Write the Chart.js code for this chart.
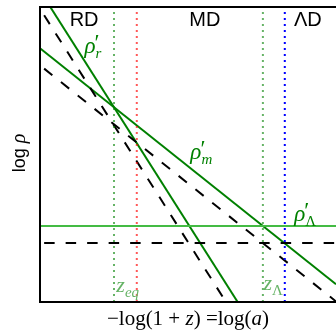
<!DOCTYPE html>
<html>
<head>
<meta charset="utf-8">
<script src="https://cdn.jsdelivr.net/npm/chart.js@4/dist/chart.umd.min.js"></script>
<style>
  html, body { margin: 0; padding: 0; background: #fff; }
  #wrap { width: 336px; height: 330px; }
</style>
</head>
<body>
<div id="wrap"><canvas id="grafico" width="336" height="330"></canvas></div>
<script>
// eixo x: log(a), eixo y: log(rho), em unidades arbitrárias 0..10
const logA = [0, 10];
const rhoR = [10.55, -5.25];
const rhoM = [8.6, 0.6];
const rhoL = [2.58, 2.58];

// curvas tracejadas (começam um pouco à direita do eixo)
const logADash = [0.14, 10];
const rhoRDash = [9.72, -5.88];
const rhoMDash = [7.91, 0.02];
const rhoLDash = [2.0, 2.0];

// épocas marcadas com linhas pontilhadas
const epocas = [2.5, 3.27, 7.53, 8.27];
const epocaCores = ['rgba(0,128,0,0.6)', 'rgba(255,0,0,0.65)', 'rgba(0,128,0,0.6)', '#0000ff'];

const regioes = ['RD', 'MD', 'ΛD'];
const regiaoX = [1.49, 5.57, 9.05];

const VERDE = '#008000';
const SERIF = '"Liberation Serif", "DejaVu Serif", serif';
const SANS = '"Liberation Sans", Arial, sans-serif';

function pares(xs, ys) {
  return xs.map((x, i) => ({ x, y: ys[i] }));
}

const datasets = [];

epocas.forEach((e, i) => {
  datasets.push({
    data: [{ x: e, y: 0 }, { x: e, y: 10 }],
    borderColor: epocaCores[i],
    borderWidth: 2,
    borderDash: [2, 4],
    borderCapStyle: 'butt'
  });
});

[rhoRDash, rhoMDash, rhoLDash].forEach(ys => {
  datasets.push({
    data: pares(logADash, ys),
    borderColor: '#000',
    borderWidth: 2,
    borderDash: [10.5, 11],
    borderCapStyle: 'butt'
  });
});

datasets.push({ data: pares(logA, rhoL), borderColor: '#44bb44', borderWidth: 2 });
datasets.push({ data: pares(logA, rhoR), borderColor: VERDE, borderWidth: 2 });
datasets.push({ data: pares(logA, rhoM), borderColor: VERDE, borderWidth: 2 });

// desenha símbolo com linha (prime) e subscrito empilhados
function simbolo(ctx, x, y, base, sub, cor, tam, tamSub, subItalico, prime) {
  ctx.fillStyle = cor;
  ctx.font = `italic ${tam}px ${SERIF}`;
  ctx.fillText(base, x, y);
  const w = ctx.measureText(base).width;
  if (prime) {
    ctx.font = `${tam}px ${SERIF}`;
    ctx.fillText('′', x + w - 1, y - 3);
  }
  ctx.font = `${subItalico ? 'italic ' : ''}${tamSub}px ${SERIF}`;
  ctx.fillText(sub, x + w, y + 5);
}

const decoracao = {
  id: 'decoracao',
  afterDatasetsDraw(chart) {
    const { ctx, chartArea: a, scales: { x, y } } = chart;
    ctx.save();

    // moldura (esquerda, topo, base)
    ctx.strokeStyle = '#000';
    ctx.lineWidth = 2;
    ctx.beginPath();
    ctx.moveTo(a.right + 4, a.top);
    ctx.lineTo(a.left, a.top);
    ctx.lineTo(a.left, a.bottom);
    ctx.lineTo(a.right + 4, a.bottom);
    ctx.stroke();

    // nomes das eras
    ctx.fillStyle = '#000';
    ctx.font = `20px ${SANS}`;
    ctx.textAlign = 'center';
    ctx.textBaseline = 'alphabetic';
    regioes.forEach((r, i) => ctx.fillText(r, x.getPixelForValue(regiaoX[i]), y.getPixelForValue(9.36)));

    ctx.textAlign = 'left';
    simbolo(ctx, x.getPixelForValue(1.5), y.getPixelForValue(8.44), 'ρ', 'r', VERDE, 23, 15, true, true);
    simbolo(ctx, x.getPixelForValue(5.08), y.getPixelForValue(4.85), 'ρ', 'm', VERDE, 23, 15, true, true);
    simbolo(ctx, x.getPixelForValue(8.59), y.getPixelForValue(2.75), 'ρ', 'Λ', VERDE, 23, 15, false, true);
    simbolo(ctx, x.getPixelForValue(2.58), y.getPixelForValue(0.33), 'z', 'eq', '#66b366', 22, 15, true, false);
    simbolo(ctx, x.getPixelForValue(7.55), y.getPixelForValue(0.39), 'z', 'Λ', '#66b366', 22, 15, false, false);

    // título do eixo y
    ctx.save();
    ctx.translate(25, 153);
    ctx.rotate(-Math.PI / 2);
    ctx.fillStyle = '#000';
    ctx.font = `18px ${SANS}`;
    const txtLog = 'log ';
    const wLog = ctx.measureText(txtLog).width;
    ctx.font = `italic 20px ${SERIF}`;
    const wRho = ctx.measureText('ρ').width;
    const px = -(wLog + wRho) / 2;
    ctx.font = `18px ${SANS}`;
    ctx.fillText(txtLog, px, 0);
    ctx.font = `italic 20px ${SERIF}`;
    ctx.fillText('ρ', px + wLog, 0);
    ctx.restore();

    // título do eixo x
    const partes = [
      ['−log(1 + ', ''], ['z', 'italic '], [') =log(', ''], ['a', 'italic '], [')', '']
    ];
    const tam = 21;
    let total = 0;
    partes.forEach(([t, s]) => { ctx.font = `${s}${tam}px ${SERIF}`; total += ctx.measureText(t).width; });
    let cx = 188 - total / 2;
    ctx.fillStyle = '#000';
    partes.forEach(([t, s]) => {
      ctx.font = `${s}${tam}px ${SERIF}`;
      ctx.fillText(t, cx, 325);
      cx += ctx.measureText(t).width;
    });

    ctx.restore();
  }
};

new Chart(document.getElementById('grafico'), {
  type: 'line',
  data: { datasets },
  options: {
    responsive: false,
    animation: false,
    layout: { padding: { left: 40, top: 7, right: 0, bottom: 28 } },
    elements: { point: { radius: 0 }, line: { tension: 0 } },
    scales: {
      x: { type: 'linear', min: 0, max: 10, display: false },
      y: { type: 'linear', min: 0, max: 10, display: false }
    },
    plugins: { legend: { display: false }, tooltip: { enabled: false } }
  },
  plugins: [decoracao]
});
</script>
</body>
</html>
